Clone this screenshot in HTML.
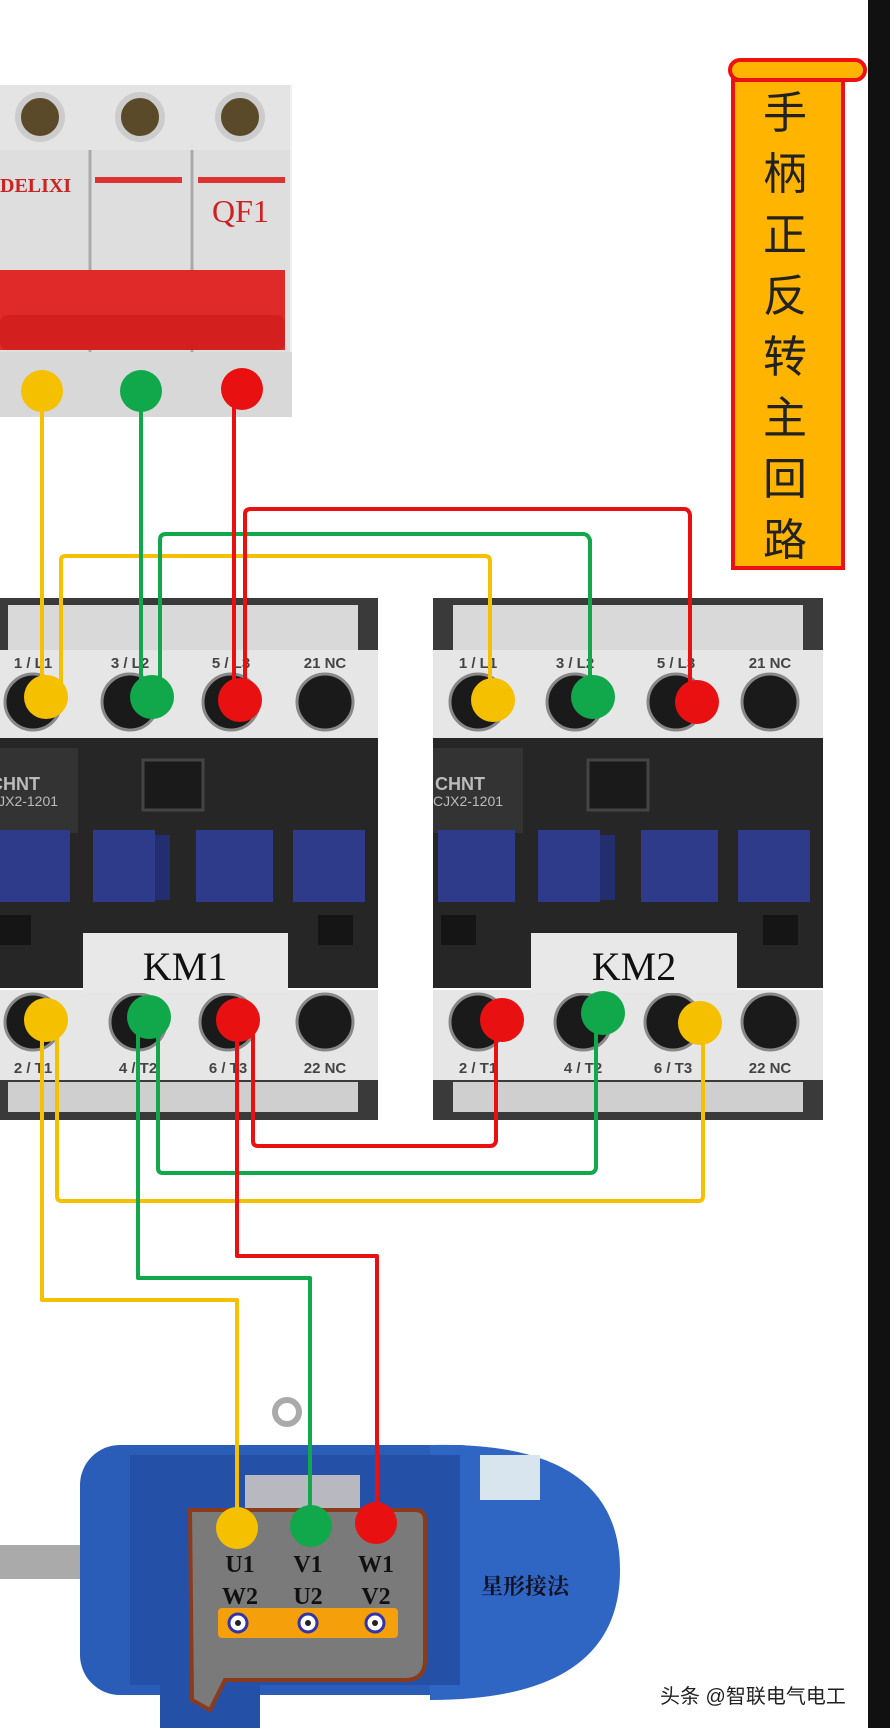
<!DOCTYPE html>
<html><head><meta charset="utf-8"><style>
html,body{margin:0;padding:0;background:#fff;}
svg{display:block;font-family:"Liberation Sans","Noto Sans CJK SC",sans-serif;}
</style></head><body>
<svg width="890" height="1728" viewBox="0 0 890 1728" xmlns="http://www.w3.org/2000/svg">
<defs>
<g id="km">
  <rect x="0" y="598" width="390" height="55" fill="#3a3a3a"/>
  <rect x="20" y="605" width="350" height="45" fill="#d9d9d9"/>
  <rect x="0" y="650" width="390" height="90" fill="#e6e6e6"/>
  <rect x="0" y="738" width="390" height="250" fill="#262626"/>
  <rect x="0" y="748" width="90" height="85" fill="#333"/>
  <rect x="155" y="760" width="60" height="50" fill="#1a1a1a" stroke="#444" stroke-width="3"/>
  <rect x="5" y="830" width="77" height="72" fill="#2e3a8a"/>
  <rect x="105" y="830" width="62" height="72" fill="#2e3a8a"/>
  <rect x="167" y="835" width="15" height="65" fill="#232e70"/>
  <rect x="208" y="830" width="77" height="72" fill="#2e3a8a"/>
  <rect x="305" y="830" width="72" height="72" fill="#2e3a8a"/>
  <rect x="8" y="915" width="35" height="30" fill="#151515"/>
  <rect x="330" y="915" width="35" height="30" fill="#151515"/>
  <text x="2" y="790" font-size="18" font-weight="bold" fill="#bbb">CHNT</text>
  <text x="0" y="806" font-size="14" fill="#bbb">CJX2-1201</text>
  <rect x="0" y="990" width="390" height="92" fill="#e6e6e6"/>
  <rect x="0" y="1080" width="390" height="40" fill="#3a3a3a"/>
  <rect x="20" y="1082" width="350" height="30" fill="#cfcfcf"/>
  <g fill="#1a1a1a" stroke="#888" stroke-width="3">
    <circle cx="45" cy="702" r="28"/><circle cx="142" cy="702" r="28"/><circle cx="243" cy="702" r="28"/><circle cx="337" cy="702" r="28"/>
    <circle cx="45" cy="1022" r="28"/><circle cx="150" cy="1022" r="28"/><circle cx="240" cy="1022" r="28"/><circle cx="337" cy="1022" r="28"/>
  </g>
  <g font-size="15" font-weight="bold" fill="#444" text-anchor="middle">
    <text x="45" y="668">1 / L1</text><text x="142" y="668">3 / L2</text><text x="243" y="668">5 / L3</text><text x="337" y="668">21 NC</text>
    <text x="45" y="1073">2 / T1</text><text x="150" y="1073">4 / T2</text><text x="240" y="1073">6 / T3</text><text x="337" y="1073">22 NC</text>
  </g>
</g>
</defs>
<!-- breaker -->
<rect x="0" y="85" width="292" height="332" fill="#f0f0f0"/>
<rect x="0" y="85" width="290" height="150" fill="#e4e4e4"/>
<g fill="#5a4a2a" stroke="#ccc" stroke-width="6"><circle cx="40" cy="117" r="22"/><circle cx="140" cy="117" r="22"/><circle cx="240" cy="117" r="22"/></g>
<rect x="0" y="150" width="290" height="240" fill="#dedede"/>
<line x1="90" y1="150" x2="90" y2="400" stroke="#aaa" stroke-width="3"/>
<line x1="192" y1="150" x2="192" y2="400" stroke="#aaa" stroke-width="3"/>
<rect x="95" y="177" width="87" height="6" fill="#d33"/><rect x="198" y="177" width="87" height="6" fill="#d33"/>
<text x="0" y="192" font-size="20" font-weight="bold" fill="#c22" style="font-family:'Liberation Serif',serif">DELIXI</text>
<text x="212" y="222" font-size="32" fill="#c22" style="font-family:'Liberation Serif',serif">QF1</text>
<rect x="0" y="270" width="285" height="80" fill="#e02a2a"/>
<rect x="0" y="315" width="285" height="35" rx="8" fill="#d41f1f"/>
<rect x="0" y="352" width="292" height="65" fill="#d8d8d8"/>
<!-- scroll -->
<rect x="730" y="60" width="135" height="20" rx="10" fill="#ffb400" stroke="#e11" stroke-width="4"/>
<rect x="733" y="80" width="110" height="488" fill="#ffb400" stroke="#e11" stroke-width="4"/>
<g font-size="44" text-anchor="middle" fill="#222" style="font-family:'Noto Sans CJK SC',sans-serif">
<text x="785" y="128">手</text><text x="785" y="189">柄</text><text x="785" y="250">正</text><text x="785" y="311">反</text><text x="785" y="372">转</text><text x="785" y="433">主</text><text x="785" y="494">回</text><text x="785" y="555">路</text></g>
<rect x="868" y="0" width="22" height="1728" fill="#111"/>
<!-- contactors -->
<use href="#km" x="-12"/>
<use href="#km" x="433"/>
<rect x="83" y="933" width="205" height="60" fill="#e8e8e8"/>
<text x="185" y="980" font-size="40" text-anchor="middle" fill="#111" style="font-family:'Liberation Serif',serif">KM1</text>
<rect x="531" y="933" width="206" height="60" fill="#e8e8e8"/>
<text x="634" y="980" font-size="40" text-anchor="middle" fill="#111" style="font-family:'Liberation Serif',serif">KM2</text>
<!-- motor -->
<rect x="0" y="1545" width="90" height="34" fill="#aaa"/>
<rect x="80" y="1445" width="420" height="250" rx="40" fill="#2a5db8"/>
<path d="M430 1445 Q620 1440 620 1570 Q620 1700 430 1700 Z" fill="#2f66c4"/>
<rect x="130" y="1455" width="330" height="230" fill="#2550a8"/>
<rect x="160" y="1680" width="100" height="48" fill="#2550a8"/>
<circle cx="287" cy="1412" r="12" fill="none" stroke="#aaa" stroke-width="6"/>
<rect x="480" y="1455" width="60" height="45" fill="#d8e4ee"/>
<rect x="245" y="1475" width="115" height="40" fill="#b8b8c0"/>
<path d="M190 1510 L415 1510 Q425 1510 425 1520 L425 1660 Q425 1680 405 1680 L225 1680 L210 1710 L192 1700 Z" fill="#7a7a7a" stroke="#8b3a1a" stroke-width="4"/>
<rect x="218" y="1608" width="180" height="30" rx="4" fill="#f5a00a"/>
<g fill="#fff" stroke="#33a" stroke-width="3"><circle cx="238" cy="1623" r="9"/><circle cx="308" cy="1623" r="9"/><circle cx="375" cy="1623" r="9"/></g>
<g fill="#222"><circle cx="238" cy="1623" r="3"/><circle cx="308" cy="1623" r="3"/><circle cx="375" cy="1623" r="3"/></g>
<g font-size="24" font-weight="bold" fill="#111" text-anchor="middle" style="font-family:'Liberation Serif',serif">
<text x="240" y="1572">U1</text><text x="308" y="1572">V1</text><text x="376" y="1572">W1</text>
<text x="240" y="1604">W2</text><text x="308" y="1604">U2</text><text x="376" y="1604">V2</text></g>
<text x="525" y="1594" font-size="22" font-weight="bold" fill="#112" text-anchor="middle" style="font-family:'Noto Serif CJK SC','Noto Sans CJK SC',serif">星形接法</text>
<text x="660" y="1703" font-size="20" fill="#222">头条 @智联电气电工</text>
<!-- wires -->
<g fill="none" stroke-width="4" stroke-linejoin="round">
<path d="M42 391 V697 M61 697 V560 Q61 556 66 556 H485 Q490 556 490 561 V700" stroke="#f5c000"/>
<path d="M141 391 V697 M160 697 V540 Q160 534 166 534 H583 Q588 534 590 540 V697" stroke="#10a84a"/>
<path d="M234 389 V700 M245 700 V514 Q245 509 251 509 H684 Q689 509 690 515 V702" stroke="#e81010"/>
<path d="M57 1020 V1196 Q57 1201 62 1201 H698 Q703 1201 703 1196 V1023" stroke="#f5c000"/>
<path d="M158 1013 V1168 Q158 1173 163 1173 H590 Q595 1173 596 1168 V1013" stroke="#10a84a"/>
<path d="M253 1020 V1141 Q253 1146 258 1146 H490 Q495 1146 496 1141 V1020" stroke="#e81010"/>
<path d="M42 1020 V1300 H237 V1528" stroke="#f5c000"/>
<path d="M138 1020 V1278 H310 V1526" stroke="#10a84a"/>
<path d="M237 1020 V1256 H377 V1523" stroke="#e81010"/>
</g>
<g>
<circle cx="42" cy="391" r="21" fill="#f5c000"/><circle cx="141" cy="391" r="21" fill="#10a84a"/><circle cx="242" cy="389" r="21" fill="#e81010"/>
<circle cx="46" cy="697" r="22" fill="#f5c000"/><circle cx="152" cy="697" r="22" fill="#10a84a"/><circle cx="240" cy="700" r="22" fill="#e81010"/>
<circle cx="493" cy="700" r="22" fill="#f5c000"/><circle cx="593" cy="697" r="22" fill="#10a84a"/><circle cx="697" cy="702" r="22" fill="#e81010"/>
<circle cx="46" cy="1020" r="22" fill="#f5c000"/><circle cx="149" cy="1017" r="22" fill="#10a84a"/><circle cx="238" cy="1020" r="22" fill="#e81010"/>
<circle cx="502" cy="1020" r="22" fill="#e81010"/><circle cx="603" cy="1013" r="22" fill="#10a84a"/><circle cx="700" cy="1023" r="22" fill="#f5c000"/>
<circle cx="237" cy="1528" r="21" fill="#f5c000"/><circle cx="311" cy="1526" r="21" fill="#10a84a"/><circle cx="376" cy="1523" r="21" fill="#e81010"/>
</g>
</svg>
</body></html>
